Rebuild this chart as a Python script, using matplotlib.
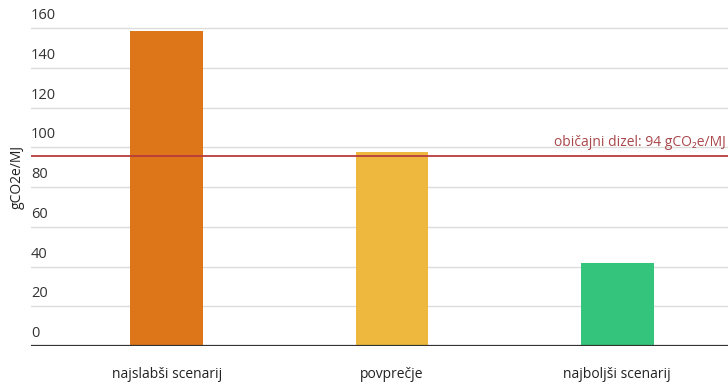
import matplotlib.pyplot as plt
import matplotlib.transforms as mtransforms

plt.rcParams['font.family'] = ['Open Sans', 'DejaVu Sans']

# data
categories = ['najslabši scenarij', 'povprečje', 'najboljši scenarij']
values = [158.5, 97.5, 42]
colors = ['#DD7519', '#EDB83D', '#34C47C']
yticks = [0, 20, 40, 60, 80, 100, 120, 140, 160]
diesel_line = 95.8
diesel_label = 'običajni dizel: 94 gCO₂e/MJ'

fig = plt.figure(figsize=(7.28, 3.86), dpi=100)
ax = fig.add_axes([31 / 728, 40 / 386, 697 / 728, 345.6 / 386])

x = range(len(categories))
ax.bar(x, values, width=0.324, color=colors, zorder=2)
ax.set_xlim(-0.604, 2.493)
ax.set_ylim(0, 174)

for s in ax.spines.values():
    s.set_visible(False)
ax.axhline(0, color='#333333', lw=1.6, zorder=3)
for t in yticks[1:]:
    ax.axhline(t, color='#dcdcdc', lw=1, zorder=1)

ax.set_xticks([])
ax.set_yticks([])
trans = mtransforms.blended_transform_factory(ax.transAxes, ax.transData)
for t in yticks:
    ax.text(0.0, t + 2.5, str(t), transform=trans, ha='left', va='bottom',
            fontsize=10.5, color='#333333')

for i, c in enumerate(categories):
    ax.text(i, -14.5, c, ha='center', va='center', fontsize=10, color='#222222')

ax.axhline(diesel_line, color='#B73B3D', lw=1.3, zorder=3)
ax.text(0.997, diesel_line + 3, diesel_label, transform=trans, ha='right',
        va='bottom', fontsize=10, color='#A9474A')

fig.text(17 / 728, 1 - 177 / 386, 'gCO2e/MJ', rotation=90, ha='center',
         va='center', fontsize=10, color='#222222')

fig.savefig('out.png', dpi=100)
